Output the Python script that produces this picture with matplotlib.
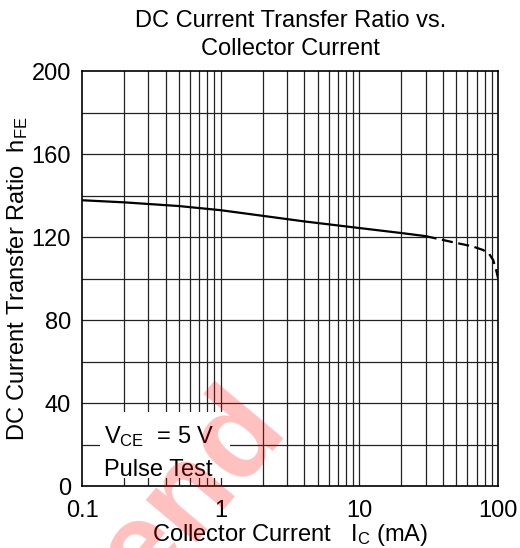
import numpy as np
import matplotlib
matplotlib.use("Agg")
import matplotlib.pyplot as plt
from matplotlib.ticker import FixedLocator, NullFormatter

plt.rcParams['font.family'] = ['Liberation Sans', 'DejaVu Sans']
plt.rcParams['mathtext.default'] = 'regular'

# hFE vs Ic
ic_solid = [0.1, 0.2, 0.5, 1, 2, 4, 10, 20, 30]
hfe_solid = [137.8, 136.8, 135, 133, 130.3, 127.6, 124.4, 122, 120.5]
ic_dash = [30, 47, 65, 78, 86, 92, 96, 100]
hfe_dash = [120.5, 117.6, 115.6, 113.8, 112, 109, 105, 100]

yticks = [0, 40, 80, 120, 160, 200]
xticks = [0.1, 1, 10, 100]
xlabels = ['0.1', '1', '10', '100']

fs = 17

fig = plt.figure(figsize=(5.2, 5.48), dpi=100)
ax = fig.add_axes([0.158, 0.113, 0.8, 0.757])

ax.set_xscale('log')
ax.set_xlim(0.1, 100)
ax.set_ylim(0, 200)

# grid
minor = [m * 10.0 ** e for e in (-1, 0, 1) for m in range(2, 10)]
for x in minor + [1, 10]:
    ax.axvline(x, color='#222222', lw=0.9, zorder=1)
for y in range(20, 200, 20):
    ax.axhline(y, color='#222222', lw=0.9, zorder=1)

ax.plot(ic_solid, hfe_solid, color='black', lw=1.6, zorder=3)
ax.plot(ic_dash, hfe_dash, color='black', lw=1.6, ls=(0, (5, 2.5)), zorder=3)

# condition box
ax.fill_between([0.135, 1.17], 3.9, 35.7, color='white', zorder=2, lw=0)
ax.text(0.143, 20.5, r'V$_{CE}$  = 5 V', fontsize=fs, zorder=4)
ax.text(0.143, 5.0, 'Pulse Test', fontsize=fs, zorder=4)

ax.xaxis.set_major_locator(FixedLocator(xticks))
ax.xaxis.set_minor_formatter(NullFormatter())
ax.set_xticks(xticks, xlabels)
ax.set_yticks(yticks)
ax.tick_params(which='both', length=0, labelsize=fs)
ax.tick_params(axis='x', pad=10)
ax.tick_params(axis='y', pad=8)
for s in ax.spines.values():
    s.set_linewidth(1.2)
    s.set_zorder(5)

ax.set_xlabel(r'Collector Current   I$_C$ (mA)', fontsize=fs, labelpad=0)
ax.set_ylabel(r'DC Current Transfer Ratio  h$_{FE}$', fontsize=fs, labelpad=1)
ax.set_title('DC Current Transfer Ratio vs.\nCollector Current', fontsize=fs,
             linespacing=1.3, pad=12)

# translucent watermark laid over the whole chart
fig.text(0.552, 0.226, 'Recommend', rotation=50, rotation_mode='anchor',
         ha='right', va='baseline', fontsize=90, fontweight='bold',
         color='red', alpha=0.25, zorder=10)

fig.savefig('out.png', dpi=100, facecolor='white')
